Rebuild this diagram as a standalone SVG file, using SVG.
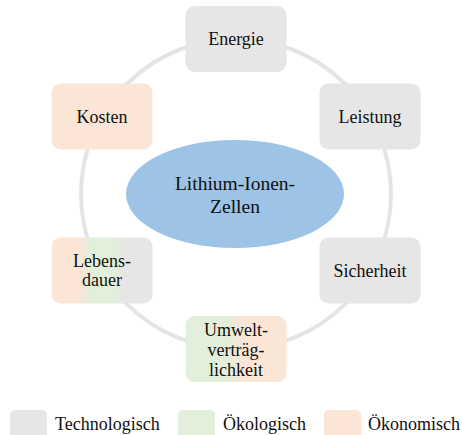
<svg xmlns="http://www.w3.org/2000/svg" width="462" height="435" viewBox="0 0 462 435">
<style>
.node{stroke:none}
text{font-family:'Liberation Serif','Times New Roman',serif;fill:#111}
.t{font-size:18px;text-anchor:middle}
.c{font-size:19.5px;text-anchor:middle}
.lg{font-size:18px}
.ring{fill:none;stroke:#e4e4e4;stroke-width:4}
</style>
<defs>
<linearGradient id="gLeb" x1="0" y1="0" x2="1" y2="0">
<stop offset="0" stop-color="#fbe5d6"/>
<stop offset="0.28" stop-color="#fbe5d6"/>
<stop offset="0.38" stop-color="#e2efda"/>
<stop offset="0.6" stop-color="#e2efda"/>
<stop offset="0.72" stop-color="#e6e6e6"/>
<stop offset="1" stop-color="#e6e6e6"/>
</linearGradient>
<linearGradient id="gUmw" x1="0" y1="0" x2="1" y2="0">
<stop offset="0" stop-color="#e2efda"/>
<stop offset="0.42" stop-color="#e2efda"/>
<stop offset="0.58" stop-color="#fbe5d6"/>
<stop offset="1" stop-color="#fbe5d6"/>
</linearGradient>
</defs>
<g id="connectors">
<circle class="ring" cx="236" cy="194" r="155"/>
</g>
<g id="center">
<ellipse cx="235" cy="194" rx="109" ry="54" fill="#9dc3e6"/>
<text class="c" x="235" y="190">Lithium-Ionen-</text>
<text class="c" x="235" y="213">Zellen</text>
</g>
<g id="energie">
<rect class="node" x="185.5" y="6" width="101" height="66" rx="9" fill="#e6e6e6"/>
<text class="t" x="236" y="45">Energie</text>
</g>
<g id="leistung">
<rect class="node" x="319.5" y="83.5" width="101" height="66" rx="9" fill="#e6e6e6"/>
<text class="t" x="370" y="122.5">Leistung</text>
</g>
<g id="sicherheit">
<rect class="node" x="319.5" y="237.5" width="101" height="66" rx="9" fill="#e6e6e6"/>
<text class="t" x="370" y="276.5">Sicherheit</text>
</g>
<g id="umwelt">
<rect class="node" x="185.5" y="316" width="101" height="66" rx="9" fill="url(#gUmw)"/>
<text class="t" x="236" y="336">Umwelt-</text>
<text class="t" x="236" y="356">verträg-</text>
<text class="t" x="236" y="376">lichkeit</text>
</g>
<g id="lebensdauer">
<rect class="node" x="51.5" y="237.5" width="101" height="66" rx="9" fill="url(#gLeb)"/>
<text class="t" x="102" y="267">Lebens-</text>
<text class="t" x="102" y="286">dauer</text>
</g>
<g id="kosten">
<rect class="node" x="51.5" y="83.5" width="101" height="66" rx="9" fill="#fbe5d6"/>
<text class="t" x="102" y="122.5">Kosten</text>
</g>
<g id="legend">
<rect x="10" y="410" width="37" height="30" rx="5" fill="#e6e6e6"/>
<text class="lg" x="55" y="430">Technologisch</text>
<rect x="178" y="410" width="37" height="30" rx="5" fill="#e2efda"/>
<text class="lg" x="223" y="430">Ökologisch</text>
<rect x="324" y="410" width="37" height="30" rx="5" fill="#fbe5d6"/>
<text class="lg" x="368" y="430">Ökonomisch</text>
</g>
</svg>
